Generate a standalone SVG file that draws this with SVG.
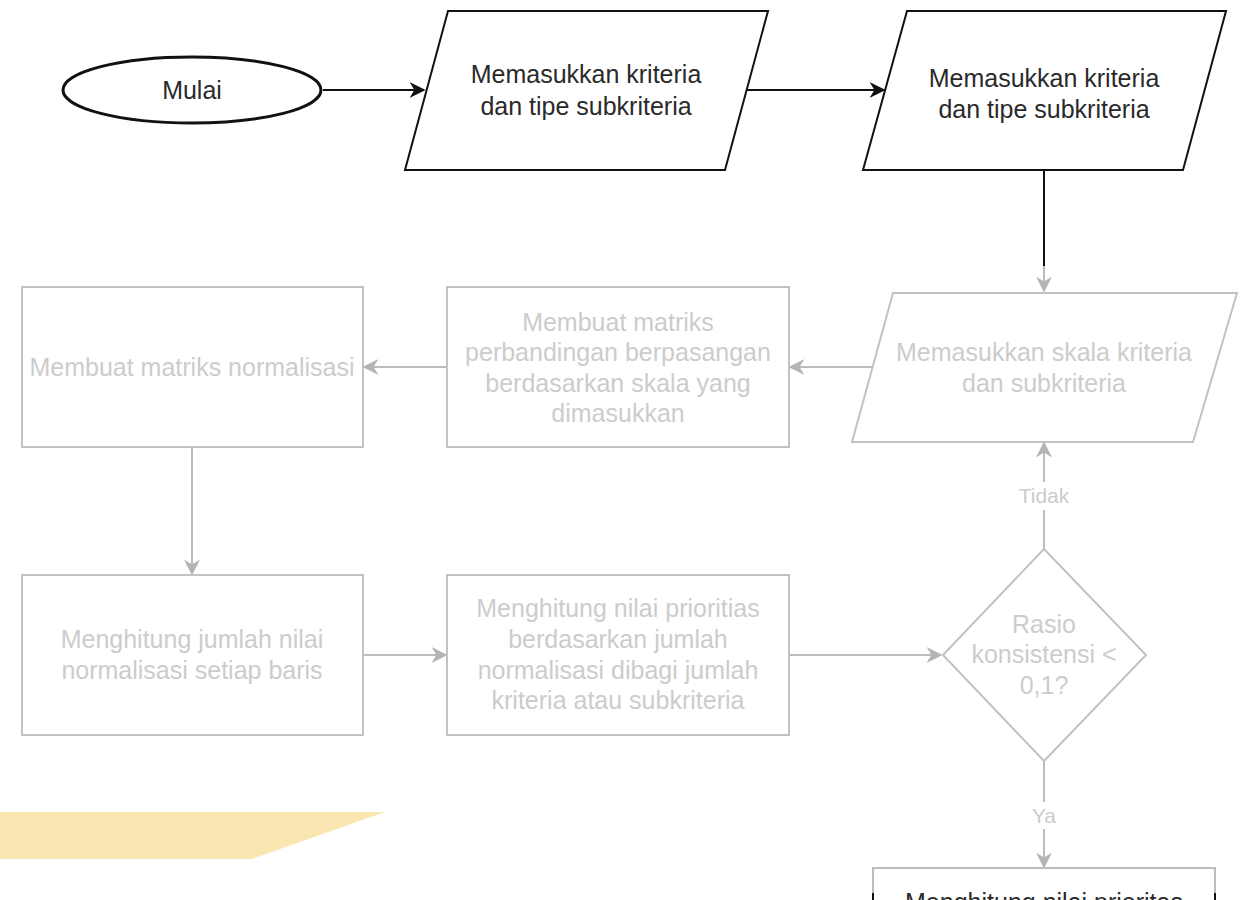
<svg xmlns="http://www.w3.org/2000/svg" width="1243" height="900" viewBox="0 0 1243 900">
  <defs>
    <marker id="arrowFaded" viewBox="0 0 10 10" refX="9" refY="5" markerWidth="16" markerHeight="16" orient="auto" markerUnits="userSpaceOnUse">
      <path d="M0,0 L10,5 L0,10 L3,5 Z" fill="#b4b4b4"/>
    </marker>
    <marker id="arrowBlack" viewBox="0 0 10 10" refX="9" refY="5" markerWidth="16" markerHeight="16" orient="auto" markerUnits="userSpaceOnUse">
      <path d="M0,0 L10,5 L0,10 L3,5 Z" fill="#111"/>
    </marker>
  </defs>
  <style>
    text { font-family: "Liberation Sans", Arial, sans-serif; font-size: 25px; text-anchor: middle; }
    .dark { fill: #2a2a2a; }
    .faded { fill: #cccccc; }
    .label { font-size: 21px; fill: #cccccc; }
    .shape-dark { fill: #fff; stroke: #111; stroke-width: 2; }
    .terminal { fill: #fff; stroke: #111; stroke-width: 3; }
    .shape-faded { fill: #fff; stroke: #c2c2c2; stroke-width: 2; }
    .edge-dark { fill: none; stroke: #111; stroke-width: 2; }
    .edge-faded { fill: none; stroke: #bdbdbd; stroke-width: 2; }
  </style>
  <rect width="1243" height="900" fill="#ffffff"/>

  <!-- decorative ribbon at the lower left -->
  <polygon points="0,812 385,812 252,859 0,859" fill="#f9e3a8" opacity="0.9"/>

  <!-- connectors -->
  <g id="connectors">
    <line class="edge-dark" x1="323" y1="90" x2="424" y2="90" marker-end="url(#arrowBlack)"/>
    <line class="edge-dark" x1="747" y1="90" x2="884" y2="90" marker-end="url(#arrowBlack)"/>
    <line class="edge-dark" x1="1044" y1="170" x2="1044" y2="268"/>
    <line class="edge-faded" x1="1044" y1="266" x2="1044" y2="291" marker-end="url(#arrowFaded)"/>
    <line class="edge-faded" x1="872" y1="367" x2="790" y2="367" marker-end="url(#arrowFaded)"/>
    <line class="edge-faded" x1="447" y1="367" x2="364" y2="367" marker-end="url(#arrowFaded)"/>
    <line class="edge-faded" x1="192" y1="447" x2="192" y2="574" marker-end="url(#arrowFaded)"/>
    <line class="edge-faded" x1="363" y1="655" x2="446" y2="655" marker-end="url(#arrowFaded)"/>
    <line class="edge-faded" x1="789" y1="655" x2="941" y2="655" marker-end="url(#arrowFaded)"/>
    <!-- "Tidak" branch back up to the scale input -->
    <line class="edge-faded" x1="1044" y1="549" x2="1044" y2="510"/>
    <line class="edge-faded" x1="1044" y1="482" x2="1044" y2="443" marker-end="url(#arrowFaded)"/>
    <text class="label" x="1044" y="503">Tidak</text>
    <!-- "Ya" branch down to the next step -->
    <line class="edge-faded" x1="1044" y1="761" x2="1044" y2="802"/>
    <line class="edge-faded" x1="1044" y1="829" x2="1044" y2="867" marker-end="url(#arrowFaded)"/>
    <text class="label" x="1044" y="823">Ya</text>
  </g>

  <g id="start">
    <ellipse class="terminal" cx="192" cy="90" rx="129" ry="33"/>
    <text class="dark" x="192" y="99">Mulai</text>
  </g>

  <g id="input-criteria-1">
    <polygon class="shape-dark" points="448,11 768,11 725,170 405,170"/>
    <text class="dark" x="586" y="83">Memasukkan kriteria</text>
    <text class="dark" x="586" y="115">dan tipe subkriteria</text>
  </g>

  <g id="input-criteria-2">
    <polygon class="shape-dark" points="907,11 1226,11 1183,170 863,170"/>
    <text class="dark" x="1044" y="87">Memasukkan kriteria</text>
    <text class="dark" x="1044" y="118">dan tipe subkriteria</text>
  </g>

  <g id="input-scale">
    <polygon class="shape-faded" points="893,293 1237,293 1193,442 852,442"/>
    <text class="faded" x="1044" y="361">Memasukkan skala kriteria</text>
    <text class="faded" x="1044" y="392">dan subkriteria</text>
  </g>

  <g id="pairwise-matrix">
    <rect class="shape-faded" x="447" y="287" width="342" height="160"/>
    <text class="faded" x="618" y="331">Membuat matriks</text>
    <text class="faded" x="618" y="361">perbandingan berpasangan</text>
    <text class="faded" x="618" y="392">berdasarkan skala yang</text>
    <text class="faded" x="618" y="422">dimasukkan</text>
  </g>

  <g id="normalized-matrix">
    <rect class="shape-faded" x="22" y="287" width="341" height="160"/>
    <text class="faded" x="192" y="376">Membuat matriks normalisasi</text>
  </g>

  <g id="row-sum">
    <rect class="shape-faded" x="22" y="575" width="341" height="160"/>
    <text class="faded" x="192" y="648">Menghitung jumlah nilai</text>
    <text class="faded" x="192" y="679">normalisasi setiap baris</text>
  </g>

  <g id="priority">
    <rect class="shape-faded" x="447" y="575" width="342" height="160"/>
    <text class="faded" x="618" y="617">Menghitung nilai prioritias</text>
    <text class="faded" x="618" y="648">berdasarkan jumlah</text>
    <text class="faded" x="618" y="679">normalisasi dibagi jumlah</text>
    <text class="faded" x="618" y="709">kriteria atau subkriteria</text>
  </g>

  <g id="consistency-check">
    <polygon class="shape-faded" points="1044,549 1146,655 1044,761 943,655"/>
    <text class="faded" x="1044" y="633">Rasio</text>
    <text class="faded" x="1044" y="663">konsistensi &lt;</text>
    <text class="faded" x="1044" y="694">0,1?</text>
  </g>

  <g id="final-priority">
    <path class="edge-faded" d="M873,900 L873,868 L1215,868 L1215,900"/>
    <line x1="873" y1="893" x2="873" y2="900" stroke="#111" stroke-width="2"/>
    <line x1="1215" y1="893" x2="1215" y2="900" stroke="#111" stroke-width="2"/>
    <text class="dark" x="1044" y="911">Menghitung nilai prioritas</text>
  </g>
</svg>
